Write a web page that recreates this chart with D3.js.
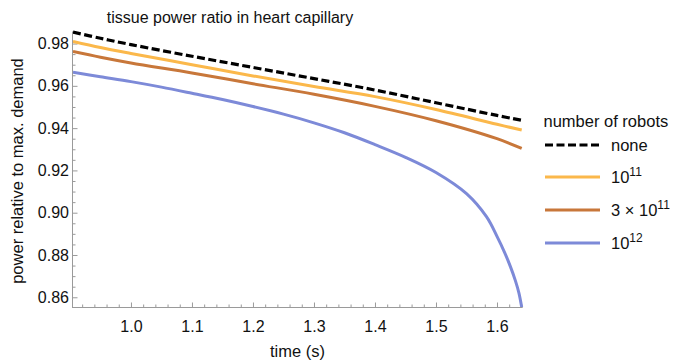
<!DOCTYPE html>
<html>
<head>
<meta charset="utf-8">
<script src="https://cdn.jsdelivr.net/npm/d3@7"></script>
<style>
  html, body { margin: 0; padding: 0; background: #fff; }
  svg { display: block; font-family: "Liberation Sans", Arial, sans-serif; }
</style>
</head>
<body>
<svg id="chart" width="674" height="363"></svg>
<script>
// time samples (s) shared by the three upper curves
const timeCoarse = [0.905, 0.95, 1.0, 1.1, 1.2, 1.3, 1.4, 1.5, 1.6, 1.6405];
const powerNone = [0.9854, 0.9825, 0.9795, 0.9740, 0.9687, 0.9634, 0.9580, 0.9520, 0.9460, 0.9437];
const power1e11 = [0.9810, 0.9781, 0.9753, 0.9700, 0.9647, 0.9597, 0.9549, 0.9488, 0.9418, 0.9391];
const power3e11 = [0.9762, 0.9735, 0.9708, 0.9661, 0.9610, 0.9560, 0.9503, 0.9435, 0.9350, 0.9304];

// the 10^12 curve needs finer sampling where it drops off
const timeFine = [0.905, 0.95, 1.0, 1.05, 1.1, 1.15, 1.2, 1.25, 1.3, 1.35, 1.4, 1.45, 1.5, 1.55,
                  1.583, 1.6, 1.612, 1.622, 1.630, 1.636, 1.6405];
const power1e12 = [0.9664, 0.9643, 0.9620, 0.9594, 0.9565, 0.9535, 0.9502, 0.9466, 0.9425, 0.9378,
                   0.9322, 0.9262, 0.9190, 0.9090, 0.8980, 0.8888, 0.8815, 0.8745, 0.8680, 0.8620, 0.8553];

const xTicks = [1.0, 1.1, 1.2, 1.3, 1.4, 1.5, 1.6];
const yTicks = [0.86, 0.88, 0.90, 0.92, 0.94, 0.96, 0.98];

const seriesNames = ["none", "1e11", "3e11", "1e12"];
const seriesColors = ["#000000", "#FBB84B", "#C8773A", "#7D8AD8"];

const series = [
  { name: seriesNames[0], t: timeCoarse, v: powerNone, color: seriesColors[0], dash: "8,3.5", width: 3.2 },
  { name: seriesNames[1], t: timeCoarse, v: power1e11, color: seriesColors[1], dash: null, width: 3 },
  { name: seriesNames[2], t: timeCoarse, v: power3e11, color: seriesColors[2], dash: null, width: 3 },
  { name: seriesNames[3], t: timeFine,   v: power1e12, color: seriesColors[3], dash: null, width: 3 }
];

const svg = d3.select("#chart");
const plotLeft = 73, plotRight = 521.7, plotTop = 31.5, plotBottom = 307;

const x = d3.scaleLinear().domain([0.905, 1.6405]).range([plotLeft, plotRight]);
const y = d3.scaleLinear().domain([0.8554, 0.9857]).range([plotBottom, plotTop]);

const axisColor = "#9a9a9a";
const textColor = "#111111";
const fontFamily = "Liberation Sans, Arial, sans-serif";

// clip the curves to the frame
svg.append("defs").append("clipPath").attr("id", "plotClip")
  .append("rect").attr("x", plotLeft).attr("y", plotTop - 4)
  .attr("width", plotRight - plotLeft + 2).attr("height", plotBottom - plotTop + 4);

// x axis (ticks pointing into the plot)
const xMinor = d3.range(0.92, 1.641, 0.02).filter(v => !xTicks.some(t => Math.abs(t - v) < 1e-6));
const gx = svg.append("g").attr("transform", `translate(0,${plotBottom})`);
gx.call(d3.axisBottom(x).tickValues(xMinor).tickSize(-2.5).tickFormat(""));
gx.select(".domain").remove();
const gx2 = svg.append("g").attr("transform", `translate(0,${plotBottom})`);
gx2.call(d3.axisBottom(x).tickValues(xTicks).tickSize(-4.5).tickPadding(14).tickFormat(d3.format(".1f")));
gx2.select(".domain").remove();
[gx, gx2].forEach(g => {
  g.selectAll(".tick line").attr("stroke", axisColor);
  g.selectAll(".tick text").attr("fill", textColor).attr("font-size", 16).attr("font-family", fontFamily);
});
svg.append("line").attr("x1", plotLeft).attr("x2", plotRight + 1)
  .attr("y1", plotBottom + 0.5).attr("y2", plotBottom + 0.5).attr("stroke", axisColor);

// y axis
const yMinor = d3.range(0.86, 0.9851, 0.005).filter(v => !yTicks.some(t => Math.abs(t - v) < 1e-6));
const gy = svg.append("g").attr("transform", `translate(${plotLeft},0)`);
gy.call(d3.axisLeft(y).tickValues(yMinor).tickSize(-2.5).tickFormat(""));
gy.select(".domain").remove();
const gy2 = svg.append("g").attr("transform", `translate(${plotLeft},0)`);
gy2.call(d3.axisLeft(y).tickValues(yTicks).tickSize(-4.5).tickPadding(4).tickFormat(d3.format(".2f")));
gy2.select(".domain").remove();
[gy, gy2].forEach(g => {
  g.selectAll(".tick line").attr("stroke", axisColor);
  g.selectAll(".tick text").attr("fill", textColor).attr("font-size", 16).attr("font-family", fontFamily);
});
svg.append("line").attr("x1", plotLeft - 0.5).attr("x2", plotLeft - 0.5)
  .attr("y1", plotTop).attr("y2", plotBottom + 1).attr("stroke", axisColor);

// curves
const line = d3.line().x(d => x(d[0])).y(d => y(d[1])).curve(d3.curveCatmullRom.alpha(0.5));
const plot = svg.append("g").attr("clip-path", "url(#plotClip)");
series.slice().reverse().forEach(s => {
  plot.append("path")
    .datum(s.t.map((t, i) => [t, s.v[i]]))
    .attr("d", line)
    .attr("fill", "none")
    .attr("stroke", s.color)
    .attr("stroke-width", s.width)
    .attr("stroke-dasharray", s.dash);
});

// title and axis labels
svg.append("text").attr("x", 230).attr("y", 22.5).attr("text-anchor", "middle")
  .attr("font-size", 16).attr("fill", textColor).text("tissue power ratio in heart capillary");
svg.append("text").attr("x", 297.5).attr("y", 357).attr("text-anchor", "middle")
  .attr("font-size", 16.5).attr("fill", textColor).text("time (s)");
svg.append("text").attr("transform", "translate(23,171) rotate(-90)").attr("text-anchor", "middle")
  .attr("font-size", 16.5).attr("fill", textColor).text("power relative to max. demand");

// legend
const legend = svg.append("g");
legend.append("text").attr("x", 543.5).attr("y", 127).attr("font-size", 16.5).attr("fill", textColor)
  .text("number of robots");
const legendRows = [145, 177, 210, 243];
series.forEach((s, i) => {
  const ly = legendRows[i];
  legend.append("line").attr("x1", 545).attr("x2", 600).attr("y1", ly).attr("y2", ly)
    .attr("stroke", s.color).attr("stroke-width", s.width).attr("stroke-dasharray", s.dash);
  const t = legend.append("text").attr("x", 611).attr("y", ly + 6).attr("font-size", 16.5).attr("fill", textColor);
  if (s.name === "none") {
    t.text("none");
  } else {
    const [coef, exp] = s.name.split("e");
    if (coef !== "1") t.append("tspan").text(coef + " \u00d7 ");
    t.append("tspan").text("10");
    t.append("tspan").attr("dy", -7).attr("font-size", 12).text(exp);
  }
});
</script>
</body>
</html>
